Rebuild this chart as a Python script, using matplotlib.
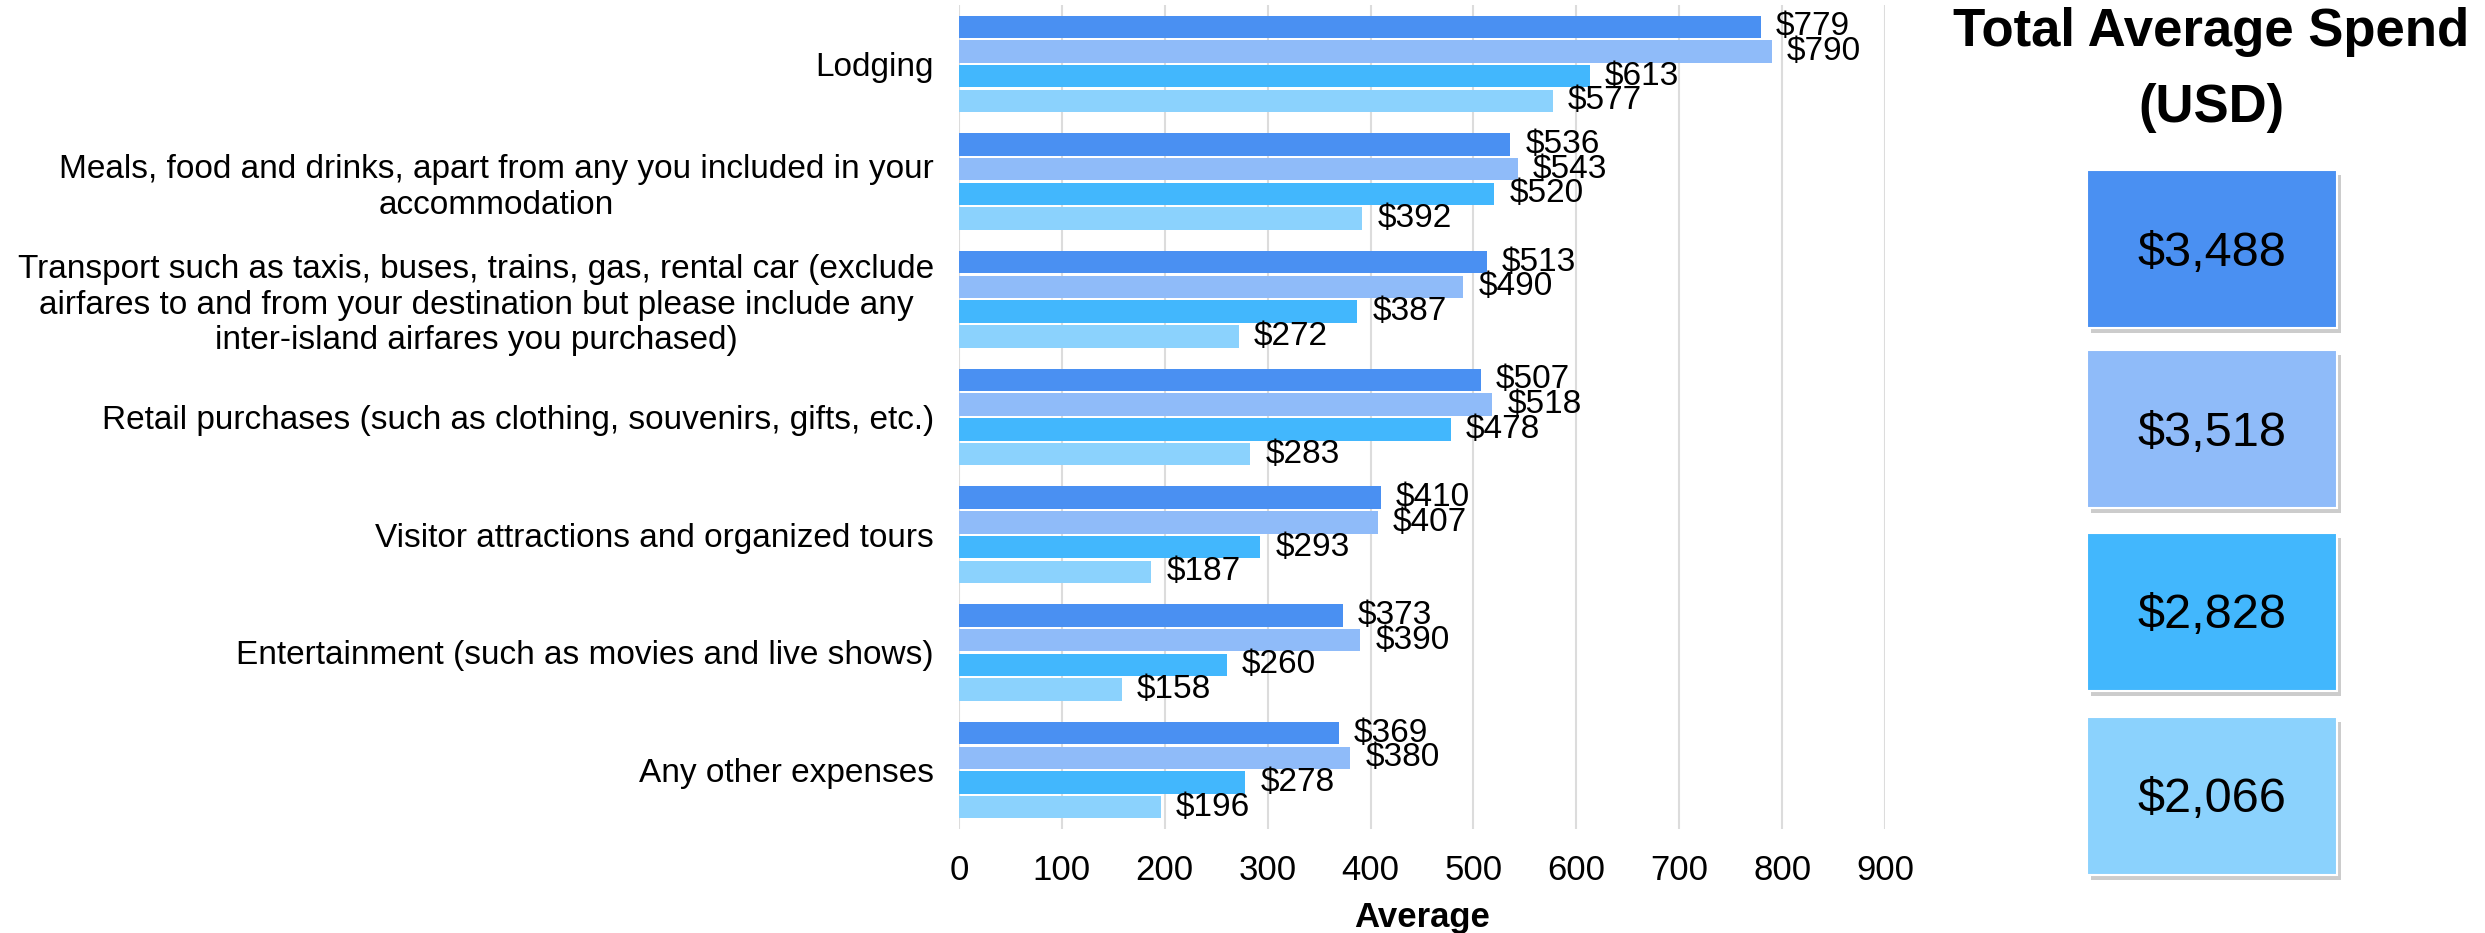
import matplotlib
matplotlib.use("Agg")
import matplotlib.pyplot as plt
from matplotlib.patches import Rectangle

plt.rcParams['font.family'] = ['Liberation Sans', 'DejaVu Sans']

# Spend categories (top to bottom) and average spend per visitor group
categories = [
    "Lodging",
    "Meals, food and drinks, apart from any you included in your\naccommodation",
    "Transport such as taxis, buses, trains, gas, rental car (exclude\nairfares to and from your destination but please include any\ninter-island airfares you purchased)",
    "Retail purchases (such as clothing, souvenirs, gifts, etc.)",
    "Visitor attractions and organized tours",
    "Entertainment (such as movies and live shows)",
    "Any other expenses",
]
series_a = [779, 536, 513, 507, 410, 373, 369]
series_b = [790, 543, 490, 518, 407, 390, 380]
series_c = [613, 520, 387, 478, 293, 260, 278]
series_d = [577, 392, 272, 283, 187, 158, 196]
totals = [3488, 3518, 2828, 2066]
xticks = [0, 100, 200, 300, 400, 500, 600, 700, 800, 900]

COLORS = ["#4a90f2", "#8fbbf9", "#42b7fd", "#8bd2fd"]

W, H = 2485, 933
fig = plt.figure(figsize=(W / 100, H / 100), dpi=100)
ax = fig.add_axes([959 / W, 1 - 829 / H, 926 / W, 824 / H])

series = [series_a, series_b, series_c, series_d]
pitch, height = 0.21, 0.19
for j, (vals, color) in enumerate(zip(series, COLORS)):
    ys = [i + (j - 1.5) * pitch for i in range(len(categories))]
    bars = ax.barh(ys, vals, height=height, color=color, zorder=2)
    for bar, v in zip(bars, vals):
        ax.annotate(f"${v}", xy=(bar.get_width(), bar.get_y() + bar.get_height() / 2),
                    xytext=(11, 0), textcoords="offset points",
                    ha="left", va="center", fontsize=24, zorder=3)

ax.set_ylim(len(categories) - 0.5, -0.5)
ax.set_xlim(0, 900)
ax.set_yticks(range(len(categories)))
ax.set_yticklabels(categories, fontsize=24, multialignment="center")
ax.set_xticks(xticks)
ax.set_xticklabels([str(t) for t in xticks], fontsize=25)
ax.tick_params(axis="x", length=0, pad=18)
ax.tick_params(axis="y", length=0, pad=18)
ax.grid(axis="x", color="#dcdcdc", linewidth=1.5, zorder=0)
for s in ax.spines.values():
    s.set_visible(False)
ax.set_xlabel("Average", fontsize=25, fontweight="bold", labelpad=10)

# Right-hand summary panel
fig.text(2211 / W, 1 - 32 / H, "Total Average Spend", ha="center", va="center",
         fontsize=38, fontweight="bold")
fig.text(2211 / W, 1 - 108 / H, "(USD)", ha="center", va="center",
         fontsize=38, fontweight="bold")

pan = fig.add_axes([0, 0, 1, 1], facecolor="none")
pan.set_xlim(0, W)
pan.set_ylim(H, 0)
pan.axis("off")
box_x, box_w, box_h = 2087, 250, 158
box_tops = [170, 350, 533, 717]
for top, total, color in zip(box_tops, totals, COLORS):
    pan.add_patch(Rectangle((box_x + 4, top + 5), box_w, box_h,
                            facecolor="#9a9a9a", alpha=0.5, edgecolor="none"))
    pan.add_patch(Rectangle((box_x, top), box_w, box_h, facecolor=color,
                            edgecolor="white", linewidth=1.5))
    pan.text(box_x + box_w / 2, top + box_h / 2 + 4, f"${total:,}", ha="center",
             va="center", fontsize=35)

fig.savefig("out.png", dpi=100)
